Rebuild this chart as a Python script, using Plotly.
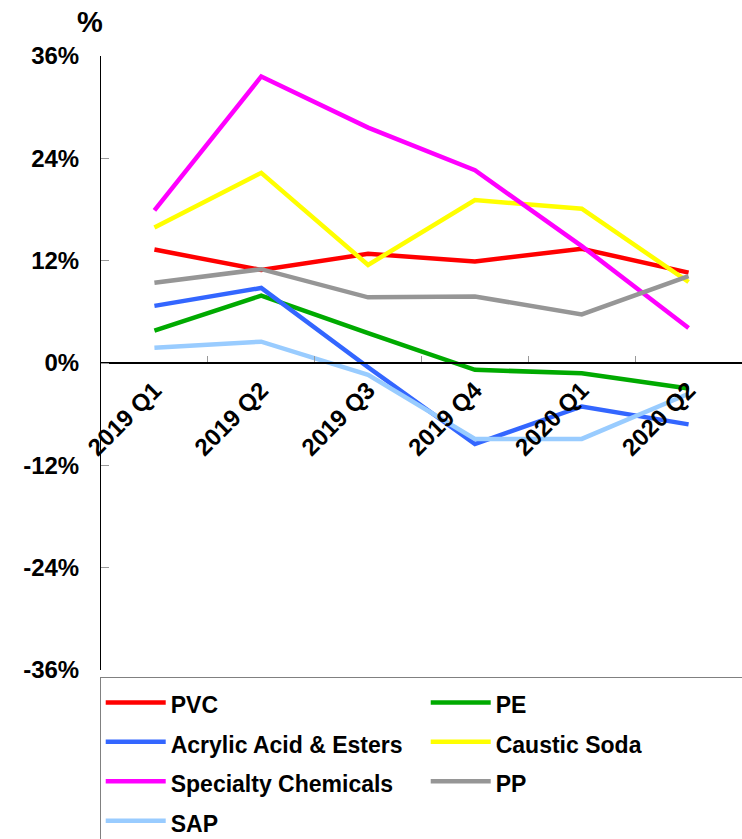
import plotly.graph_objects as go

quarters = ["2019 Q1", "2019 Q2", "2019 Q3", "2019 Q4", "2020 Q1", "2020 Q2"]
pvc = [13.3, 10.9, 12.8, 11.9, 13.4, 10.6]
pe = [3.8, 7.9, 3.5, -0.8, -1.2, -3.0]
acrylic = [6.7, 8.8, -0.5, -9.5, -5.1, -7.2]
caustic = [15.9, 22.3, 11.5, 19.1, 18.1, 9.5]
specialty = [17.9, 33.6, 27.6, 22.6, 13.7, 4.1]
pp = [9.4, 11.0, 7.7, 7.8, 5.7, 10.2]
sap = [1.8, 2.5, -1.4, -8.9, -8.9, -3.6]

series = [
    ("PVC", pvc, "#FF0000"),
    ("PE", pe, "#00AA00"),
    ("Acrylic Acid & Esters", acrylic, "#3366FF"),
    ("Caustic Soda", caustic, "#FFFF00"),
    ("Specialty Chemicals", specialty, "#FF00FF"),
    ("PP", pp, "#969696"),
    ("SAP", sap, "#99CCFF"),
]

y_ticks = [-36, -24, -12, 0, 12, 24, 36]
y_ticktext = [f"{v}%" for v in y_ticks]

FONT = "Liberation Sans, Arial, sans-serif"

fig = go.Figure()
for name, vals, color in series:
    fig.add_trace(go.Scatter(
        x=quarters, y=vals, mode="lines",
        name=f'<span style="font-size:23px">{name}</span>',
        line=dict(color=color, width=4.5),
    ))

fig.update_layout(
    width=742, height=839,
    margin=dict(l=101, r=0, t=56, b=169, autoexpand=False),
    plot_bgcolor="white", paper_bgcolor="white",
    font=dict(family=FONT, size=20, color="black"),
    showlegend=True,
    legend=dict(
        orientation="h", x=-0.002, y=-0.011, xanchor="left", yanchor="top",
        entrywidth=250, entrywidthmode="pixels", itemwidth=60,
        bordercolor="#808080", borderwidth=1,
        font=dict(family=FONT, size=28, color="black", weight="bold"),
        traceorder="normal",
    ),
    xaxis=dict(
        type="category", anchor="free", position=0.5, range=[-0.5, 5.5],
        showline=True, linecolor="black", linewidth=1.5,
        ticks="inside", ticklen=6, tickcolor="#999999", tickson="boundaries",
        tickangle=-45, showgrid=False, zeroline=False, automargin=False,
        ticklabelstandoff=3,
        tickfont=dict(family=FONT, size=24, color="black", weight="bold"),
    ),
    yaxis=dict(
        range=[-36, 36], tickvals=y_ticks, ticktext=y_ticktext,
        showline=True, linecolor="black", linewidth=1,
        ticks="inside", ticklen=8, tickcolor="#999999",
        showgrid=False, zeroline=False, automargin=False,
        ticklabelstandoff=16,
        tickfont=dict(family=FONT, size=24, color="black", weight="bold"),
    ),
    annotations=[dict(
        text="%", xref="paper", yref="paper", x=-0.017, y=1.0,
        xanchor="center", yanchor="middle", yshift=34, showarrow=False,
        font=dict(family=FONT, size=29, color="black", weight="bold"),
    )],
)

fig.write_html(
    "out.html",
    config={"displayModeBar": False},
    post_script="document.body.style.margin='0';document.body.style.overflow='hidden';",
)
